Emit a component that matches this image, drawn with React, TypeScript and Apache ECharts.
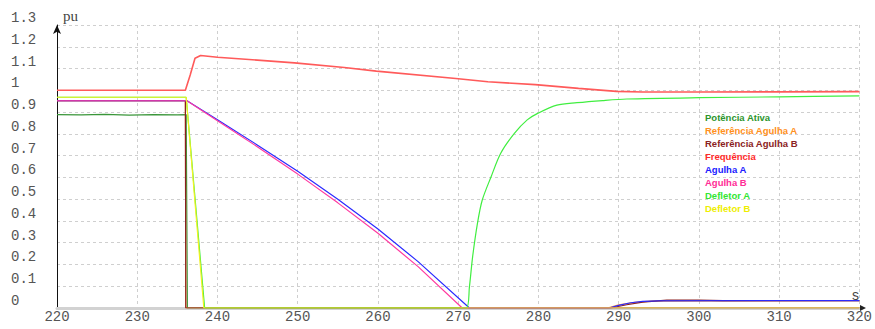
import React, { useEffect, useRef } from "react";
import * as echarts from "echarts";

// time (s) and value (pu) arrays ("-" marks a break in the line)
const potT = [220, 223, 226, 229, 232, 235, 236.1, 236.25, 320];
const potV = [0.888, 0.887, 0.889, 0.886, 0.888, 0.887, 0.888, 0, 0];

const refAT = [220, 236.0, 236.05, 288.6, 290, 292, 294, 320];
const refAV = [0.952, 0.952, 0, 0, 0.014, 0.026, 0.032, 0.034];

const refBT = [220, 236.0, 236.05, 289, 291, 293, 296, 300, 303, 320];
const refBV = [0.952, 0.952, 0, 0, 0.015, 0.027, 0.036, 0.036, 0.034, 0.034];

const freqT = [220, 236.0, 236.6, 237.2, 237.9, 240, 249.6, 255.8, 259.8, 269.7, 273.7, 279.6, 285, 289.7, 293, 300, 310, 320];
const freqV = [1.0, 1.0, 1.07, 1.147, 1.16, 1.152, 1.126, 1.105, 1.088, 1.054, 1.039, 1.026, 1.009, 0.995, 0.992, 0.992, 0.993, 0.994];

const agAT = [220, 236.2, 240, 245, 250, 255, 260, 265, 271.4, 288.8, 290, 291.5, 293, 295, 320];
const agAV = [0.952, 0.952, 0.865, 0.748, 0.628, 0.5, 0.363, 0.213, 0, 0, 0.012, 0.024, 0.03, 0.033, 0.034];

const agBT = [220, 236.2, 240, 245, 250, 255, 260, 265, 270.5, 320];
const agBV = [0.952, 0.952, 0.86, 0.74, 0.615, 0.483, 0.343, 0.19, 0, 0];

const defAT = [220, 236.1, 236.1, 236.1, 238.4, 238.4, 238.4, 271.0, 271.4, 271.8, 272.4, 273.0, 274.1, 275.3, 277.0, 278.6, 279.9, 282.3, 284.8, 288, 291.0, 300, 310, 320];
const defAV: (number | string)[] = [0.968, 0.968, "-", 0.968, 0, "-", 0, 0, 0.098, 0.236, 0.389, 0.496, 0.603, 0.711, 0.802, 0.864, 0.894, 0.932, 0.943, 0.953, 0.96, 0.966, 0.97, 0.974];

const defBT = [220, 236.1, 238.3, 320];
const defBV = [0.968, 0.968, 0, 0];

const seriesNames = [
  "Potência Ativa",
  "Referência Agulha A",
  "Referência Agulha B",
  "Frequência",
  "Agulha A",
  "Agulha B",
  "Defletor A",
  "Defletor B",
];
const lineColors = ["#3a963a", "#ff9a30", "#8b2020", "#ff5a5a", "#2a2aff", "#ff3aa0", "#40ee40", "#f2f222"];
const textColors = ["#2d962d", "#ff9020", "#8b2222", "#ff2a2a", "#2020ff", "#ff2d96", "#33e633", "#eeee00"];

const xTicks = { min: 220, max: 320, interval: 10 };
const yTicks = { min: 0, max: 1.3, interval: 0.1 };

function zip(t: number[], v: (number | string)[]) {
  return t.map((x, i) => [x, v[i]]);
}

export default function App() {
  const ref = useRef<HTMLDivElement>(null);
  useEffect(() => {
    document.body.style.margin = "0";
    if (!ref.current) return;
    const chart = echarts.init(ref.current, undefined, { renderer: "svg" });
    const datasets = [
      zip(potT, potV),
      zip(refAT, refAV),
      zip(refBT, refBV),
      zip(freqT, freqV),
      zip(agAT, agAV),
      zip(agBT, agBV),
      zip(defAT, defAV),
      zip(defBT, defBV),
    ];
    const mono = "'Liberation Mono', 'DejaVu Sans Mono', monospace";
    chart.setOption({
      animation: false,
      grid: { left: 57, right: 14, top: 25, bottom: 21, containLabel: false },
      legend: {
        orient: "vertical",
        left: 695,
        top: 107,
        icon: "none",
        itemWidth: 0,
        itemHeight: 10,
        itemGap: 3,
        selectedMode: false,
        textStyle: { fontFamily: "'Liberation Sans', Arial, sans-serif", fontWeight: "bold", fontSize: 9.5, lineHeight: 10 },
        data: seriesNames.map((n, i) => ({ name: n, textStyle: { color: textColors[i] } })),
      },
      xAxis: {
        type: "value",
        min: xTicks.min,
        max: xTicks.max,
        interval: xTicks.interval,
        name: "s",
        nameLocation: "end",
        nameGap: -4,
        nameTextStyle: { align: "center", verticalAlign: "bottom", padding: [0, 0, 5, 0], fontFamily: mono, fontSize: 14, color: "#444" },
        axisLine: { show: true, lineStyle: { color: "#d2d2d2", width: 3 } },
        axisTick: { show: false },
        axisLabel: { fontFamily: mono, fontSize: 14, color: "#555", margin: 2 },
        splitLine: { show: true, lineStyle: { color: "#cfcfcf", type: [3, 3], width: 1 } },
      },
      yAxis: {
        type: "value",
        min: yTicks.min,
        max: yTicks.max,
        interval: yTicks.interval,
        name: "pu",
        nameLocation: "end",
        nameGap: 2,
        nameTextStyle: { align: "left", padding: [0, 0, 0, 6], fontFamily: "'Liberation Serif', serif", fontSize: 15, color: "#444" },
        axisLine: { show: true, lineStyle: { color: "#111", width: 1 }, symbol: ["none", "arrow"], symbolSize: [6, 9] },
        axisTick: { show: false },
        axisLabel: { fontFamily: mono, fontSize: 14, color: "#555", align: "left", margin: 46, verticalAlign: "bottom" },
        splitLine: { show: true, lineStyle: { color: "#cfcfcf", type: [3, 3], width: 1 } },
      },
      graphic: [
        {
          type: "polygon",
          shape: { points: [[860, 305], [866, 308], [860, 311]] },
          style: { fill: "#222" },
          z: 10,
        },
      ],
      series: seriesNames.map((n, i) => ({
        name: n,
        type: "line",
        data: datasets[i],
        showSymbol: false,
        symbol: "none",
        color: lineColors[i],
        connectNulls: false,
        smooth: i === 6 ? 0.3 : false,
        lineStyle: { color: lineColors[i], width: i === 3 ? 1.6 : 1.2 },
        z: 2 + i * 0.01,
      })),
    });
    return () => chart.dispose();
  }, []);
  return <div ref={ref} style={{ width: 875, height: 329 }} />;
}
